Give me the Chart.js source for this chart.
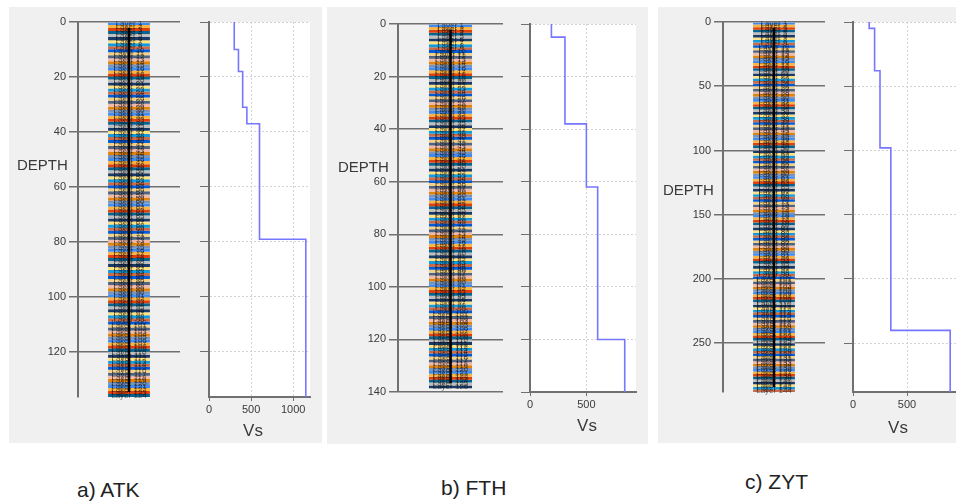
<!DOCTYPE html>
<html lang="en">
<head>
<meta charset="UTF-8">
<title>Vs profiles ATK / FTH / ZYT</title>
<script src="https://cdn.jsdelivr.net/npm/chart.js"></script>
<style>
  html, body { margin: 0; padding: 0; background: #fff; overflow: hidden; }
  body { position: relative; width: 956px; height: 502px; font-family: "Liberation Sans", Arial, sans-serif; }
  .panel { position: absolute; background: #f0f0f0; }
  canvas { position: absolute; }
  .lbl { position: absolute; color: #3a3a3a; line-height: 1; white-space: nowrap; }
  .depth { font-size: 15px; }
  .vs { font-size: 17px; width: 40px; text-align: center; }
  .cap { font-size: 21px; color: #222; }
</style>
</head>
<body>
  <div class="panel" style="left:9px;top:7px;width:313px;height:436px"></div>
  <div class="panel" style="left:327px;top:7px;width:321px;height:437px"></div>
  <div class="panel" style="left:658px;top:7px;width:298px;height:436px"></div>

  <canvas id="colA" width="175" height="400" style="left:10px;top:8px"></canvas>
  <canvas id="vsA" width="135" height="415" style="left:185px;top:8px"></canvas>
  <canvas id="colB" width="177" height="400" style="left:330px;top:8px"></canvas>
  <canvas id="vsB" width="140" height="415" style="left:506px;top:8px"></canvas>
  <canvas id="colC" width="170" height="400" style="left:660px;top:8px"></canvas>
  <canvas id="vsC" width="140" height="415" style="left:830px;top:8px"></canvas>

  <div class="lbl depth" style="left:17px;top:157px">DEPTH</div>
  <div class="lbl depth" style="left:338px;top:159px">DEPTH</div>
  <div class="lbl depth" style="left:663px;top:182px">DEPTH</div>

  <div class="lbl vs" style="left:233px;top:422px">Vs</div>
  <div class="lbl vs" style="left:567px;top:417px">Vs</div>
  <div class="lbl vs" style="left:878px;top:419px">Vs</div>

  <div class="lbl cap" style="left:77px;top:479px">a) ATK</div>
  <div class="lbl cap" style="left:441px;top:477px">b) FTH</div>
  <div class="lbl cap" style="left:745px;top:471px">c) ZYT</div>

<script>
// layer thicknesses (m), top to bottom
const atkLayers = [
  1.1,1.1,1.1,1.1,1.1,1.1,1.1,1.1,1.1,1.1,1.1,1.1,1.1,1.1,1.1,1.1,1.1,1.1,1.1,1.1,
  1.1,1.1,1.1,1.1,1.1,1.1,1.1,1.1,1.1,1.1,1.1,1.1,1.1,1.1,1.1,1.1,1.1,1.1,1.1,1.1,
  1.1,1.1,1.1,1.1,1.1,1.1,1.1,1.1,1.1,1.1,1.1,1.1,1.1,1.1,1.1,1.1,1.1,1.1,1.1,1.1,
  1.1,1.1,1.1,1.1,1.1,1.1,1.1,1.1,1.1,1.1,1.1,1.1,1.1,1.1,1.1,1.1,1.1,1.1,1.1,1.1,
  1.1,1.1,1.1,1.1,1.1,1.1,1.1,1.1,1.1,1.1,1.1,1.1,1.1,1.1,1.1,1.1,1.1,1.1,1.1,1.1,
  1.1,1.1,1.1,1.1,1.1,1.1,1.1,1.1,1.1,1.1,1.1,1.1,1.1,1.1,1.1,1.1,1.1,1.1,1.1,1.1,
  1.1,1.1,1.1,1.1
];
const fthLayers = [
  1.1,1.1,1.1,1.1,1.1,1.1,1.1,1.1,1.1,1.1,1.1,1.1,1.1,1.1,1.1,1.1,1.1,1.1,1.1,1.1,
  1.1,1.1,1.1,1.1,1.1,1.1,1.1,1.1,1.1,1.1,1.1,1.1,1.1,1.1,1.1,1.1,1.1,1.1,1.1,1.1,
  1.1,1.1,1.1,1.1,1.1,1.1,1.1,1.1,1.1,1.1,1.1,1.1,1.1,1.1,1.1,1.1,1.1,1.1,1.1,1.1,
  1.1,1.1,1.1,1.1,1.1,1.1,1.1,1.1,1.1,1.1,1.1,1.1,1.1,1.1,1.1,1.1,1.1,1.1,1.1,1.1,
  1.1,1.1,1.1,1.1,1.1,1.1,1.1,1.1,1.1,1.1,1.1,1.1,1.1,1.1,1.1,1.1,1.1,1.1,1.1,1.1,
  1.1,1.1,1.1,1.1,1.1,1.1,1.1,1.1,1.1,1.1,1.1,1.1,1.1,1.1,1.1,1.1,1.1,1.1,1.1,1.1,
  1.1,1.1,1.1,1.1,1.1,1.1
];
const zytLayers = [
  2,2,2,2,2,2,2,2,2,2,2,2,2,2,2,2,2,2,2,2,
  2,2,2,2,2,2,2,2,2,2,2,2,2,2,2,2,2,2,2,2,
  2,2,2,2,2,2,2,2,2,2,2,2,2,2,2,2,2,2,2,2,
  2,2,2,2,2,2,2,2,2,2,2,2,2,2,2,2,2,2,2,2,
  2,2,2,2,2,2,2,2,2,2,2,2,2,2,2,2,2,2,2,2,
  2,2,2,2,2,2,2,2,2,2,2,2,2,2,2,2,2,2,2,2,
  2,2,2,2,2,2,2,2,2,2,2,2,2,2,2,2,2,2,2,2,
  2,2,2,2
];

// Vs step profiles: velocity and top depth of each step
const atkVs  = [300, 350, 400, 450, 600, 1150];
const atkTop = [0, 10, 18, 31, 37, 79];
const fthVs  = [190, 310, 500, 600, 840];
const fthTop = [0, 5, 38, 62, 120];
const zytVs  = [150, 200, 250, 350, 900];
const zytTop = [0, 5, 38, 98, 240];

// axis ranges and tick labels
const atkDepthMax = 136.4, fthDepthMax = 140, zytDepthMax = 288;
const atkDepthTicks = [0, 20, 40, 60, 80, 100, 120];
const fthDepthTicks = [0, 20, 40, 60, 80, 100, 120, 140];
const zytDepthTicks = [0, 50, 100, 150, 200, 250];
const atkVsMax = 1200, fthVsMax = 940, zytVsMax = 1000;
const atkVsTicks = [0, 500, 1000];
const fthVsTicks = [0, 500];
const zytVsTicks = [0, 500];

// MSChart "BrightPastel"
const palette = ['#418CF0', '#FCB441', '#E0400A', '#056492', '#BFBFBF', '#1A3B69', '#FFE382', '#129CDD',
                 '#CA6B4B', '#005CDB', '#F3D288', '#506381', '#F1B9A8', '#E0830A', '#7893BE'];

const tickFont = { family: 'Liberation Sans', size: 11 };
const axisGray = '#707070';

// "Layer N" labels and the black centre line on the column
const layerText = {
  id: 'layerText',
  afterDatasetsDraw(chart) {
    const ctx = chart.ctx;
    const n = chart.data.datasets.length;
    ctx.save();
    ctx.font = '8px "Liberation Sans"';
    ctx.fillStyle = 'rgba(10,10,10,0.62)';
    ctx.textAlign = 'center';
    ctx.textBaseline = 'middle';
    for (let i = 0; i < n; i++) {
      const bar = chart.getDatasetMeta(i).data[0];
      ctx.fillText(chart.data.datasets[i].label, bar.x, (bar.y + bar.base) / 2);
    }
    const first = chart.getDatasetMeta(0).data[0];
    const last = chart.getDatasetMeta(n - 1).data[0];
    ctx.strokeStyle = '#000';
    ctx.lineWidth = 2.5;
    ctx.beginPath();
    ctx.moveTo(first.x, first.base + 5);
    ctx.lineTo(first.x, last.y - 5);
    ctx.stroke();
    ctx.restore();
  }
};

// white plot area
const plotBg = {
  id: 'plotBg',
  beforeDraw(chart) {
    const a = chart.chartArea;
    chart.ctx.save();
    chart.ctx.fillStyle = '#fff';
    chart.ctx.fillRect(a.left, a.top, a.right - a.left, a.bottom - a.top);
    chart.ctx.restore();
  }
};

function columnChart(id, layers, depthMax, depthTicks, axisW, pad) {
  return new Chart(document.getElementById(id), {
    type: 'bar',
    data: {
      labels: [''],
      datasets: layers.map((t, i) => ({
        label: 'Layer ' + (i + 1),
        data: [t],
        backgroundColor: palette[i % palette.length],
        borderWidth: 0,
        barPercentage: 0.41,
        categoryPercentage: 1
      }))
    },
    options: {
      responsive: false,
      animation: false,
      devicePixelRatio: 1,
      layout: { padding: pad },
      plugins: { legend: { display: false }, tooltip: { enabled: false } },
      scales: {
        x: { display: false, stacked: true },
        y: {
          stacked: true, reverse: true, min: 0, max: depthMax,
          afterBuildTicks: s => { s.ticks = depthTicks.map(v => ({ value: v })); },
          afterFit: s => { s.width = axisW; },
          grid: { color: axisGray, lineWidth: 1.5, tickLength: 9, tickColor: axisGray },
          border: { color: axisGray, width: 2 },
          ticks: { font: tickFont, color: '#3a3a3a', padding: 3, callback: v => String(v) }
        }
      }
    },
    plugins: [layerText]
  });
}

function profileChart(id, vs, tops, depthMax, depthTicks, vsMax, vsTicks, axisW, axisH, pad) {
  const pts = [];
  vs.forEach((v, i) => {
    pts.push({ x: v, y: tops[i] });
    pts.push({ x: v, y: i + 1 < tops.length ? tops[i + 1] : depthMax });
  });
  return new Chart(document.getElementById(id), {
    type: 'scatter',
    data: {
      datasets: [{ data: pts, showLine: true, borderColor: '#7676ff', borderWidth: 1.6, pointRadius: 0, fill: false }]
    },
    options: {
      responsive: false,
      animation: false,
      devicePixelRatio: 1,
      layout: { padding: pad },
      plugins: { legend: { display: false }, tooltip: { enabled: false } },
      scales: {
        x: {
          type: 'linear', min: 0, max: vsMax,
          afterBuildTicks: s => { s.ticks = vsTicks.map(v => ({ value: v })); },
          afterFit: s => { s.height = axisH; },
          grid: { color: '#d2d2d2', tickColor: axisGray, tickLength: 4, tickBorderDash: [] },
          border: { color: axisGray, width: 2, dash: [2, 2] },
          ticks: { font: tickFont, color: '#3a3a3a', padding: 2, callback: v => String(v) }
        },
        y: {
          type: 'linear', reverse: true, min: 0, max: depthMax,
          afterBuildTicks: s => { s.ticks = depthTicks.map(v => ({ value: v })); },
          afterFit: s => { s.width = axisW; },
          grid: { color: '#d2d2d2', tickColor: axisGray, tickLength: 9, tickBorderDash: [] },
          border: { color: axisGray, width: 2, dash: [2, 2] },
          ticks: { display: false }
        }
      }
    },
    plugins: [plotBg]
  });
}

columnChart('colA', atkLayers, atkDepthMax, atkDepthTicks, 68, { top: 14, bottom: 11, right: 5 });
columnChart('colB', fthLayers, fthDepthMax, fthDepthTicks, 68, { top: 16, bottom: 16, right: 4 });
columnChart('colC', zytLayers, zytDepthMax, zytDepthTicks, 63, { top: 14, bottom: 16, right: 5 });

profileChart('vsA', atkVs, atkTop, atkDepthMax, atkDepthTicks, atkVsMax, atkVsTicks, 24, 26, { top: 14, right: 10 });
profileChart('vsB', fthVs, fthTop, fthDepthMax, fthDepthTicks, fthVsMax, fthVsTicks, 24, 31, { top: 16, right: 10 });
profileChart('vsC', zytVs, zytTop, zytDepthMax, zytDepthTicks, zytVsMax, zytVsTicks, 23, 31, { top: 14, right: 9 });
</script>
</body>
</html>
